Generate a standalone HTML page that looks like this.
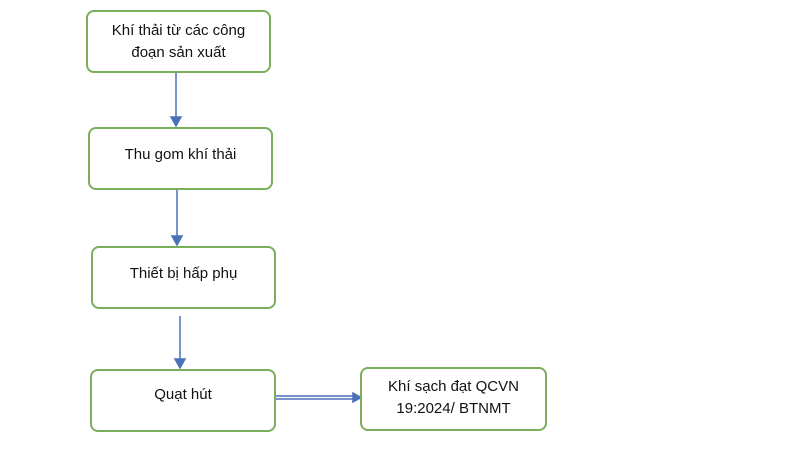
<!DOCTYPE html>
<html><head><meta charset="utf-8"><style>
body{margin:0;width:785px;height:450px;background:#fff;position:relative;font-family:"Liberation Sans",sans-serif;font-size:15px;color:#111;overflow:hidden}
.b{position:absolute;border:2px solid #7aae5a;border-radius:8px;box-sizing:border-box;text-align:center;line-height:22px;background:#fff}
svg{position:absolute;left:0;top:0}
</style></head><body>
<svg width="785" height="450">
<g stroke="#4a72b8" stroke-width="1.5" fill="#4a72b8">
<line x1="176" y1="72" x2="176" y2="118"/><polygon points="171,117 181,117 176,126"/>
<line x1="177" y1="189" x2="177" y2="237"/><polygon points="172,236 182,236 177,245"/>
<line x1="180" y1="316" x2="180" y2="360"/><polygon points="175,359 185,359 180,368"/>
<line x1="275" y1="396" x2="355" y2="396"/><line x1="275" y1="399" x2="355" y2="399"/>
<polygon points="353,393 361,397.5 353,402"/>
</g></svg>
<div class="b" style="left:86px;top:10px;width:185px;height:63px;padding-top:8px">Khí thải từ các công<br>đoạn sản xuất</div>
<div class="b" style="left:88px;top:127px;width:185px;height:63px;padding-top:15px">Thu gom khí thải</div>
<div class="b" style="left:91px;top:246px;width:185px;height:63px;padding-top:15px">Thiết bị hấp phụ</div>
<div class="b" style="left:90px;top:369px;width:186px;height:63px;padding-top:13px">Quạt hút</div>
<div class="b" style="left:360px;top:367px;width:187px;height:64px;padding-top:7px">Khí sạch đạt QCVN<br>19:2024/ BTNMT</div>
</body></html>
